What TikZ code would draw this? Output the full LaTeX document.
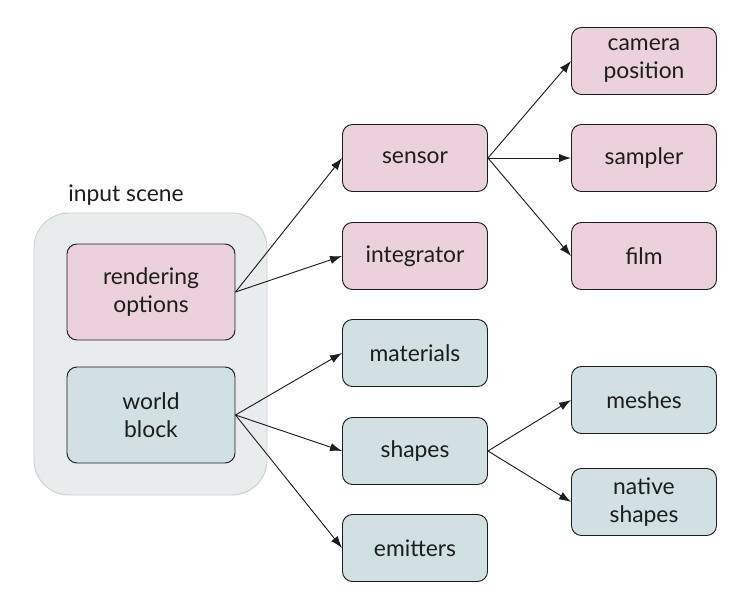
\documentclass[tikz,border=0pt]{standalone}
\usepackage{fontspec}
\setmainfont{Lato}
\usepackage{tikz}
\usetikzlibrary{positioning,arrows.meta}
\definecolor{colortext}  {RGB}{29 ,29 ,27 }
\definecolor{colorrender}{RGB}{234,209,220}
\definecolor{colorworld} {RGB}{208,224,227}
\definecolor{colorscene} {RGB}{232,236,237}
\definecolor{colorframe} {RGB}{204,208,208}

\begin{document}
\begin{tikzpicture}[
    x=0.03cm, y=-0.03cm,
    font={\fontsize{19.5}{24}\selectfont},
    title/.style={text=colortext},
    base/.style={text=colortext,align=center,rectangle,rounded corners=0.3cm,
        draw=colortext,line width=0.8pt,inner sep=0pt},
    bignode/.style={base,minimum width=5.04cm,minimum height=2.88cm},
    smallnode/.style={base,minimum width=4.35cm,minimum height=2.01cm},
    render/.style={fill=colorrender},
    world/.style={fill=colorworld},
    arrow/.style={-{Latex[length=0.36cm,width=0.25cm]},line width=0.8pt,draw=colortext},
]
    \useasboundingbox (0,0) rectangle (753,608);

    % input scene
    \node[rectangle,rounded corners=1.05cm,fill=colorscene,draw=colorframe,line width=0.8pt,
        minimum width=6.99cm,minimum height=8.46cm] (scene) at (150.5,354) {};
    \node[title] (scenetitle) at (126,195) {input scene};
    \node[bignode,render] (options) at (151,292) {rendering\\options};
    \node[bignode,world]  (world)   at (151,415) {world\\block};

    % middle column
    \node[smallnode,render] (sensor)     at (415,158) {sensor};
    \node[smallnode,render] (integrator) at (415,256) {integrator};
    \node[smallnode,world]  (materials)  at (415,353) {materials};
    \node[smallnode,world]  (shapes)     at (415,451) {shapes};
    \node[smallnode,world]  (emitters)   at (415,548) {emitters};

    % right column
    \node[smallnode,render] (camera)  at (644,61)  {camera\\position};
    \node[smallnode,render] (sampler) at (644,158) {sampler};
    \node[smallnode,render] (film)    at (644,256) {film};
    \node[smallnode,world]  (meshes)  at (644,400) {meshes};
    \node[smallnode,world]  (native)  at (644,502) {native\\shapes};

    \draw[arrow] (options.east) -- (sensor.west);
    \draw[arrow] (options.east) -- (integrator.west);
    \draw[arrow] (world.east) -- (materials.west);
    \draw[arrow] (world.east) -- (shapes.west);
    \draw[arrow] (world.east) -- (emitters.west);
    \draw[arrow] (sensor.east) -- (camera.west);
    \draw[arrow] (sensor.east) -- (sampler.west);
    \draw[arrow] (sensor.east) -- (film.west);
    \draw[arrow] (shapes.east) -- (meshes.west);
    \draw[arrow] (shapes.east) -- (native.west);

\end{tikzpicture}
\end{document}
